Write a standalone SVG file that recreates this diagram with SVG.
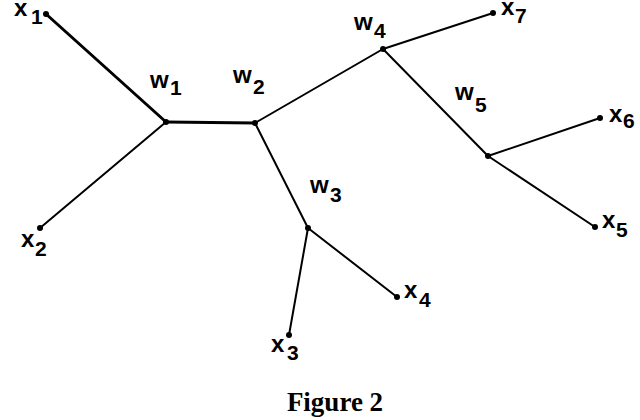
<svg xmlns="http://www.w3.org/2000/svg" width="640" height="420" viewBox="0 0 640 420">
<style>
.e{stroke:#000;stroke-width:2;fill:none;stroke-linecap:round}
.t{stroke-width:3}
.d{fill:#000}
.l{font-family:"Liberation Sans","DejaVu Sans",sans-serif;font-weight:bold;font-size:24px;fill:#000}
.s{font-size:21px}
.cap{font-family:"Liberation Serif","DejaVu Serif",serif;font-weight:bold;font-size:27px;fill:#000}
</style>
<rect width="640" height="420" fill="#fff"/>
<g id="edges">
<line class="e t" x1="46" y1="14" x2="166" y2="122"/>
<line class="e" x1="40" y1="228" x2="166" y2="122"/>
<line class="e t" x1="166" y1="122" x2="255" y2="123"/>
<line class="e" x1="255" y1="123" x2="383" y2="49"/>
<line class="e" x1="255" y1="123" x2="308" y2="228"/>
<line class="e" x1="308" y1="228" x2="289" y2="335"/>
<line class="e" x1="308" y1="228" x2="397" y2="297"/>
<line class="e" x1="383" y1="49" x2="493" y2="13"/>
<line class="e" x1="383" y1="49" x2="488" y2="156"/>
<line class="e" x1="488" y1="156" x2="600" y2="118"/>
<line class="e" x1="488" y1="156" x2="595" y2="227"/>
</g>
<g id="x1"><circle class="d" cx="46" cy="14" r="3"/><text class="l" x="14" y="16">x<tspan class="s" x="31" y="24">1</tspan></text></g>
<g id="x2"><circle class="d" cx="40" cy="228" r="3"/><text class="l" x="21" y="247">x<tspan class="s" x="35" y="256">2</tspan></text></g>
<g id="x3"><circle class="d" cx="289" cy="335" r="3"/><text class="l" x="271" y="352">x<tspan class="s" x="287" y="360">3</tspan></text></g>
<g id="x4"><circle class="d" cx="397" cy="297" r="3"/><text class="l" x="404" y="298">x<tspan class="s" x="419" y="307">4</tspan></text></g>
<g id="x5"><circle class="d" cx="595" cy="227" r="3"/><text class="l" x="602" y="228">x<tspan class="s" x="616" y="237">5</tspan></text></g>
<g id="x6"><circle class="d" cx="600" cy="118" r="3"/><text class="l" x="609" y="122">x<tspan class="s" x="623" y="128">6</tspan></text></g>
<g id="x7"><circle class="d" cx="493" cy="13" r="3"/><text class="l" x="501" y="15">x<tspan class="s" x="515" y="23">7</tspan></text></g>
<g id="w1"><circle class="d" cx="166" cy="122" r="3"/><text class="l" x="150" y="88">w<tspan class="s" x="170" y="95">1</tspan></text></g>
<g id="w2"><circle class="d" cx="255" cy="123" r="3"/><text class="l" x="233" y="83">w<tspan class="s" x="253" y="94">2</tspan></text></g>
<g id="w3"><circle class="d" cx="308" cy="228" r="3"/><text class="l" x="310" y="193">w<tspan class="s" x="330" y="202">3</tspan></text></g>
<g id="w4"><circle class="d" cx="383" cy="49" r="3"/><text class="l" x="354" y="30">w<tspan class="s" x="374" y="38">4</tspan></text></g>
<g id="w5"><circle class="d" cx="488" cy="156" r="3"/><text class="l" x="455" y="100">w<tspan class="s" x="475" y="112">5</tspan></text></g>
<text class="cap" x="335" y="411" text-anchor="middle">Figure 2</text>
</svg>
